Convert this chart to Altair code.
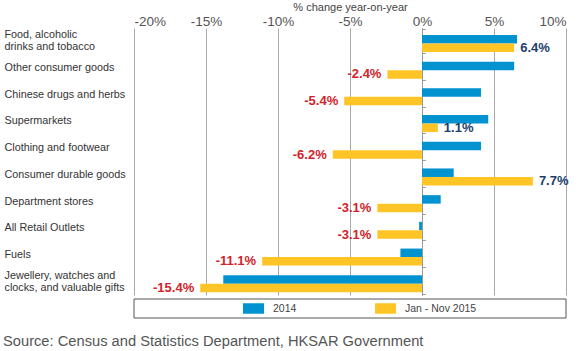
import altair as alt
import pandas as pd

categories = [
    "Food, alcoholic\ndrinks and tobacco",
    "Other consumer goods",
    "Chinese drugs and herbs",
    "Supermarkets",
    "Clothing and footwear",
    "Consumer durable goods",
    "Department stores",
    "All Retail Outlets",
    "Fuels",
    "Jewellery, watches and\nclocks, and valuable gifts",
]
values_2014 = [6.6, 6.4, 4.1, 4.6, 4.1, 2.2, 1.3, -0.2, -1.5, -13.8]
values_2015 = [6.4, -2.4, -5.4, 1.1, -6.2, 7.7, -3.1, -3.1, -11.1, -15.4]
series_names = ["2014", "Jan - Nov 2015"]
x_ticks = [-20, -15, -10, -5, 0, 5, 10]
source_text = "Source: Census and Statistics Department, HKSAR Government"

rows = []
for c, a, b in zip(categories, values_2014, values_2015):
    rows.append({"cat": c, "series": series_names[0], "value": a})
    rows.append({"cat": c, "series": series_names[1], "value": b})
df = pd.DataFrame(rows)

W, H = 432, 267
FONT = "Liberation Sans"

x_enc = alt.X(
    "value:Q",
    scale=alt.Scale(domain=[-20, 10], nice=False),
    axis=alt.Axis(
        orient="top", values=x_ticks, labelExpr="datum.value + '%'",
        grid=True, gridColor="#a8a8a8", gridWidth=1, domain=False, ticks=False,
        labelFontSize=13.5, labelColor="#555555", labelPadding=0,
        title="% change year-on-year", titleFontSize=11, titleFontWeight="normal",
        titleColor="#444444", titlePadding=2,
    ),
)

y_scale = alt.Scale(paddingInner=0.1, paddingOuter=0.05)
yoff_scale = alt.Scale(domain=series_names, paddingInner=0, paddingOuter=0.414, align=0.8)

bars = alt.Chart(df).mark_bar(size=8.5).encode(
    x=x_enc,
    y=alt.Y("cat:N", sort=categories, scale=y_scale,
            axis=alt.Axis(title=None, labelAlign="left", labelPadding=130, tickSize=0,
                          ticks=False, domain=False, labelFontSize=10.8,
                          labelColor="#333333", labelLineHeight=12,
                          labelOffset=alt.condition("indexof(datum.value, '\\n') >= 0",
                                                    alt.value(-6), alt.value(0)),
                          labelExpr="split(datum.label, '\\n')", labelLimit=200)),
    yOffset=alt.YOffset("series:N", scale=yoff_scale),
    color=alt.Color("series:N", scale=alt.Scale(domain=series_names, range=["#0093d0", "#ffc425"]),
                    legend=alt.Legend(title=None, orient="none", legendX=109, legendY=270,
                                      direction="horizontal",
                                      symbolType="M-1,-0.5L1,-0.5L1,0.5L-1,0.5Z",
                                      symbolSize=441, symbolStrokeWidth=0,
                                      labelFontSize=10.5, labelColor="#444444",
                                      columnPadding=78, labelOffset=9, padding=0)),
)

lab_base = alt.Chart(df).transform_filter(
    alt.datum.series == series_names[1]
).transform_calculate(
    label="(datum.value < 0 ? '-' : '') + format(abs(datum.value), '.1f') + '%'"
)

zero_axis = alt.Axis(orient="right", offset=-144, labels=False, title=None,
                     domain=True, domainColor="#999999", ticks=True, tickColor="#999999",
                     tickSize=3, tickBand="extent", grid=False)

pos_labels = lab_base.transform_filter(alt.datum.value >= 0).mark_text(
    align="left", baseline="middle", dx=6, fontSize=13, fontWeight="bold", color="#1b3f6b"
).encode(
    x="value:Q",
    y=alt.Y("cat:N", sort=categories, scale=y_scale, axis=zero_axis),
    yOffset=alt.YOffset("series:N", scale=yoff_scale),
    text="label:N",
)

neg_labels = lab_base.transform_filter(alt.datum.value < 0).mark_text(
    align="right", baseline="middle", dx=-6, fontSize=13, fontWeight="bold", color="#d2232a"
).encode(
    x="value:Q",
    y=alt.Y("cat:N", sort=categories, scale=y_scale, axis=zero_axis),
    yOffset=alt.YOffset("series:N", scale=yoff_scale),
    text="label:N",
)

box = alt.Chart(pd.DataFrame({"a": [0]})).mark_rect(
    fillOpacity=0, stroke="#555555", strokeWidth=1
).encode(x=alt.value(0), x2=alt.value(432), y=alt.value(271), y2=alt.value(290))

chart = alt.layer(bars, pos_labels, neg_labels, box).resolve_axis(y="independent").properties(
    width=W, height=H,
    autosize=alt.AutoSizeParams(type="none"),
    padding={"left": 134, "top": 28, "right": 20, "bottom": 56},
    title=alt.TitleParams(source_text, orient="bottom", anchor="start", dx=-1, dy=11,
                          fontSize=14.7, fontWeight="normal", color="#555555", font=FONT),
).configure(font=FONT).configure_view(stroke=None)

chart.save("out.html", embed_options={"renderer": "svg", "actions": False})
